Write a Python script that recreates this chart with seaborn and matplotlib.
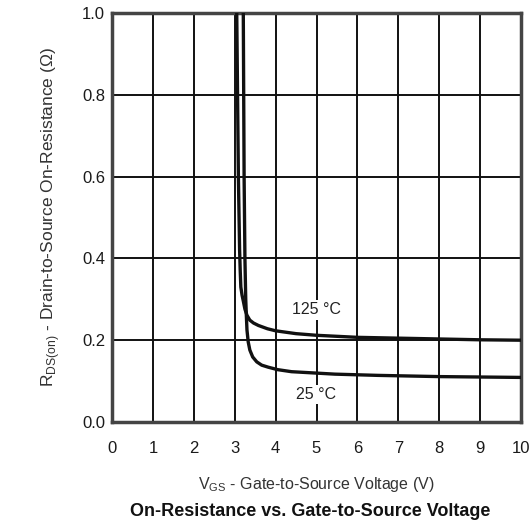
import pandas as pd
import seaborn as sns
import matplotlib.pyplot as plt

# On-resistance curves
vgs_125 = [3.05, 3.07, 3.09, 3.12, 3.135, 3.15, 3.18, 3.21, 3.25, 3.30, 3.37, 3.46, 3.58,
           3.8, 4.0, 4.5, 5.0, 6.0, 7.0, 8.0, 9.0, 10.0]
rds_125 = [1.0, 0.8, 0.6, 0.42, 0.37, 0.33, 0.31, 0.296, 0.276, 0.261, 0.249, 0.242, 0.236,
           0.228, 0.223, 0.216, 0.212, 0.207, 0.205, 0.203, 0.201, 0.2]

vgs_25 = [3.21, 3.22, 3.23, 3.25, 3.27, 3.285, 3.30, 3.33, 3.37, 3.44, 3.54, 3.66, 3.82,
          4.05, 4.39, 5.45, 6.5, 8.0, 10.0]
rds_25 = [1.0, 0.8, 0.6, 0.4, 0.3, 0.26, 0.225, 0.196, 0.176, 0.159, 0.147, 0.139, 0.134,
          0.128, 0.123, 0.117, 0.114, 0.111, 0.109]

x_ticks = list(range(0, 11))
y_ticks = [0.0, 0.2, 0.4, 0.6, 0.8, 1.0]

df = pd.concat([
    pd.DataFrame({'Vgs': vgs_125, 'Rds': rds_125, 'Temp': '125 °C'}),
    pd.DataFrame({'Vgs': vgs_25, 'Rds': rds_25, 'Temp': '25 °C'}),
])

sns.set_style('white')
plt.rcParams['font.family'] = ['Liberation Sans', 'DejaVu Sans']

fig = plt.figure(figsize=(5.32, 5.27), dpi=100)
ax = fig.add_axes([112 / 532, 1 - 422 / 527, 409 / 532, 409 / 527])

sns.lineplot(data=df, x='Vgs', y='Rds', hue='Temp', units='Temp', estimator=None,
             sort=False, palette=['#111111', '#111111'], linewidth=2.4,
             legend=False, ax=ax, zorder=3)

ax.set_xlim(0, 10)
ax.set_ylim(0, 1.0)
ax.set_xticks(x_ticks)
ax.set_yticks(y_ticks)
ax.set_yticklabels([f'{v:.1f}' for v in y_ticks])
ax.grid(True, color='#111111', linewidth=1.4)
ax.set_axisbelow(True)
for s in ax.spines.values():
    s.set_color('#444444')
    s.set_linewidth(2.5)
ax.tick_params(axis='both', length=0, labelsize=12, colors='#1a1a1a')
ax.tick_params(axis='x', pad=14)
ax.tick_params(axis='y', pad=5)

# curve labels
ax.text(5.0, 0.274, '125 °C', ha='center', va='center', fontsize=11.5, color='#222222',
        bbox=dict(facecolor='white', edgecolor='none', pad=1.5), zorder=4)
ax.text(5.0, 0.068, '25 °C', ha='center', va='center', fontsize=11.5, color='#222222',
        bbox=dict(facecolor='white', edgecolor='none', pad=1.5), zorder=4)

ax.set_xlabel(r'V$_{\mathregular{GS}}$ - Gate-to-Source Voltage (V)', fontsize=11.5,
              color='#333333', labelpad=13)
ax.set_ylabel(r'R$_{\mathregular{DS(on)}}$ - Drain-to-Source On-Resistance (Ω)', fontsize=12.5,
              color='#333333', labelpad=14)
fig.text(310 / 532, 1 - 512 / 527, 'On-Resistance vs. Gate-to-Source Voltage',
         ha='center', va='center', fontsize=13, fontweight='bold', color='#111111')

fig.savefig('out.png', dpi=100)
